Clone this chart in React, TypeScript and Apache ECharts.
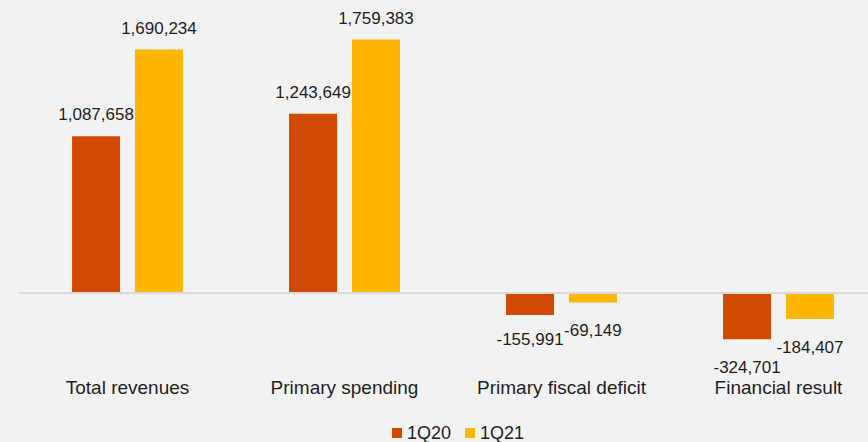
import React, { useEffect, useRef } from "react";
import * as echarts from "echarts";

const categories = ["Total revenues", "Primary spending", "Primary fiscal deficit", "Financial result"];
const series1Q20 = [1087658, 1243649, -155991, -324701];
const series1Q21 = [1690234, 1759383, -69149, -184407];
const seriesNames = ["1Q20", "1Q21"];

const FONT = "'Liberation Sans', Arial, sans-serif";
const TEXT = "#1f1f1f";

function fmt(v: number) {
  return v.toLocaleString("en-US");
}

export default function App() {
  const ref = useRef<HTMLDivElement>(null);
  useEffect(() => {
    if (!ref.current) return;
    const chart = echarts.init(ref.current, undefined, { renderer: "svg" });
    const labelCfg = {
      show: true,
      fontFamily: FONT,
      fontSize: 17,
      color: TEXT,
      formatter: (p: any) => fmt(p.value),
    };
    const mkData = (vals: number[], negDist: (i: number) => number) =>
      vals.map((v, i) => ({
        value: v,
        label: v < 0 ? { position: "bottom", distance: negDist(i) } : { position: "top", distance: 13 },
      }));
    chart.setOption({
      animation: false,
      backgroundColor: "#f2f2f2",
      textStyle: { fontFamily: FONT },
      legend: {
        data: seriesNames,
        left: 387,
        top: 419,
        itemWidth: 10,
        itemHeight: 10,
        itemGap: 14,
        icon: "rect",
        textStyle: { fontFamily: FONT, fontSize: 18, color: TEXT },
      },
      grid: { left: 19, top: 5, width: 868, height: 345, containLabel: false },
      xAxis: {
        type: "category",
        data: categories,
        axisLine: { show: false, onZero: false },
        axisTick: { show: false },
        axisLabel: { fontFamily: FONT, fontSize: 19, color: TEXT, margin: 28, interval: 0 },
      },
      yAxis: {
        type: "value",
        min: -400000,
        max: 2000000,
        show: false,
        splitLine: { show: false },
      },
      series: [
        {
          name: seriesNames[0],
          type: "bar",
          data: mkData(series1Q20, (i) => (i === 2 ? 16 : 20)),
          barWidth: 48,
          barGap: "31%",
          itemStyle: { color: "#D04A02" },
          label: labelCfg,
          markLine: {
            silent: true,
            symbol: "none",
            label: { show: false },
            lineStyle: { color: "#d9d9d9", width: 2, type: "solid" },
            data: [{ yAxis: 0 }],
          },
        },
        {
          name: seriesNames[1],
          type: "bar",
          data: mkData(series1Q21, () => 20),
          barWidth: 48,
          barGap: "31%",
          itemStyle: { color: "#FFB600" },
          label: labelCfg,
        },
      ],
    });
    return () => chart.dispose();
  }, []);
  return (
    <div style={{ position: "fixed", left: 0, top: 0, width: 868, height: 442, overflow: "hidden" }}>
      <div ref={ref} style={{ width: 900, height: 442 }} />
    </div>
  );
}
